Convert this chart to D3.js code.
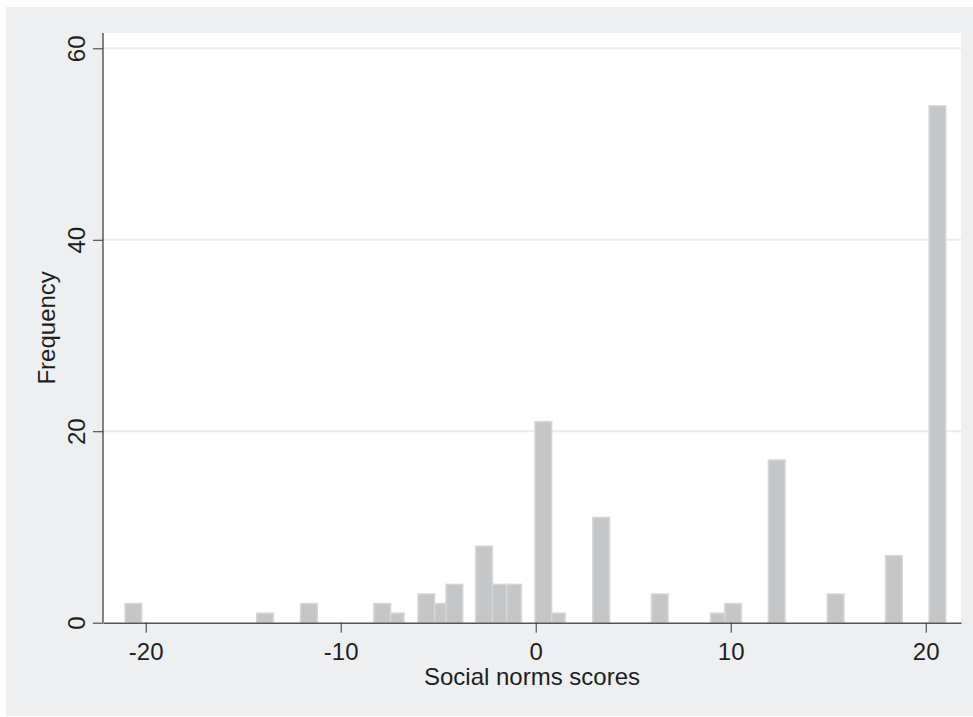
<!DOCTYPE html>
<html lang="en">
<head>
  <meta charset="UTF-8" />
  <title>Social norms scores</title>
  <style>
    body { margin: 0; background: #ffffff; }
    text { font-family: "Liberation Sans", Arial, sans-serif; fill: #1e1e1e; }
  </style>
</head>
<body>
  <div id="chart"></div>
  <script src="https://d3js.org/d3.v7.min.js"></script>
  <script>
    // bar centres (score values) and frequencies
    var scores = [-20.63, -13.88, -11.63, -7.87, -7.18, -5.61, -4.94, -4.17, -2.65, -1.92, -1.16,
                  0.39, 1.08, 3.36, 6.36, 9.40, 10.12, 12.36, 15.38, 18.37, 20.60]
    var counts = [2, 1, 2, 2, 1, 3, 2, 4, 8, 4, 4, 21, 1, 11, 3, 1, 2, 17, 3, 7, 54]
    var binWidth = 0.856

    var xTicks = [-20, -10, 0, 10, 20]
    var yTicks = [0, 20, 40, 60]
    var gridTicks = [20, 40, 60]

    var width = 973, height = 717
    var plotLeft = 103, plotRight = 961, plotTop = 33, plotBottom = 622.7

    var svg = d3.select("#chart").append("svg")
      .attr("width", width)
      .attr("height", height)

    // outer grey background
    svg.append("rect")
      .attr("x", 6).attr("y", 7)
      .attr("width", width - 6).attr("height", height - 8)
      .attr("fill", "#eeeff1")

    // white plot region
    svg.append("rect")
      .attr("x", plotLeft).attr("y", plotTop)
      .attr("width", plotRight - plotLeft).attr("height", plotBottom - plotTop)
      .attr("fill", "#ffffff")

    var x = d3.scaleLinear()
      .domain([-22.19, 21.81])
      .range([plotLeft, plotRight])

    var y = d3.scaleLinear()
      .domain([0, 61.6])
      .range([plotBottom, plotTop])

    // grid lines
    svg.append("g").selectAll("line")
      .data(gridTicks)
      .enter().append("line")
      .attr("x1", plotLeft).attr("x2", plotRight)
      .attr("y1", function (d) { return y(d) })
      .attr("y2", function (d) { return y(d) })
      .attr("stroke", "#ececee")
      .attr("stroke-width", 2)

    // bars: taller ones on top where they overlap
    var bars = scores.map(function (s, i) { return { i: i, s: s, n: counts[i] } })
    bars.sort(function (a, b) { return a.n - b.n || b.i - a.i })

    svg.append("g").selectAll("rect")
      .data(bars)
      .enter().append("rect")
      .attr("x", function (d) { return x(d.s - binWidth / 2) })
      .attr("width", function (d) { return x(d.s + binWidth / 2) - x(d.s - binWidth / 2) })
      .attr("y", function (d) { return y(d.n) })
      .attr("height", function (d) { return y(0) - y(d.n) })
      .attr("fill", "#c5c6c8")
      .attr("stroke", "#d6d7d9")
      .attr("stroke-width", 1.5)

    var plain = function (d) { return String(d) }

    // x axis
    var xAxis = svg.append("g")
      .attr("transform", "translate(0," + plotBottom + ")")
      .call(d3.axisBottom(x).tickValues(xTicks).tickFormat(plain)
        .tickSize(10).tickPadding(10).tickSizeOuter(0))
    xAxis.select(".domain").attr("stroke", "#555").attr("stroke-width", 1.5)
    xAxis.selectAll(".tick line").attr("stroke", "#333")
    xAxis.selectAll(".tick text")
      .style("font-size", "24px")
      .style("font-family", "'Liberation Sans', Arial, sans-serif")
      .attr("fill", "#1e1e1e")

    // y axis
    var yAxis = svg.append("g")
      .attr("transform", "translate(" + plotLeft + ",0)")
      .call(d3.axisLeft(y).tickValues(yTicks).tickFormat(plain)
        .tickSize(10).tickSizeOuter(0))
    yAxis.select(".domain").attr("stroke", "#333").attr("stroke-width", 1.2)
      .attr("d", "M0," + plotTop + "V" + plotBottom)
    yAxis.selectAll(".tick line").attr("stroke", "#333")
    yAxis.selectAll(".tick text")
      .attr("x", null).attr("dy", null)
      .attr("text-anchor", "middle")
      .attr("transform", "translate(-18,0) rotate(-90)")
      .style("font-size", "24px")
      .style("font-family", "'Liberation Sans', Arial, sans-serif")
      .attr("fill", "#1e1e1e")

    // axis titles
    svg.append("text")
      .attr("x", (plotLeft + plotRight) / 2)
      .attr("y", 685)
      .attr("text-anchor", "middle")
      .style("font-size", "24px")
      .text("Social norms scores")

    svg.append("text")
      .attr("transform", "translate(55," + ((plotTop + plotBottom) / 2) + ") rotate(-90)")
      .attr("text-anchor", "middle")
      .style("font-size", "24px")
      .text("Frequency")
  </script>
</body>
</html>
